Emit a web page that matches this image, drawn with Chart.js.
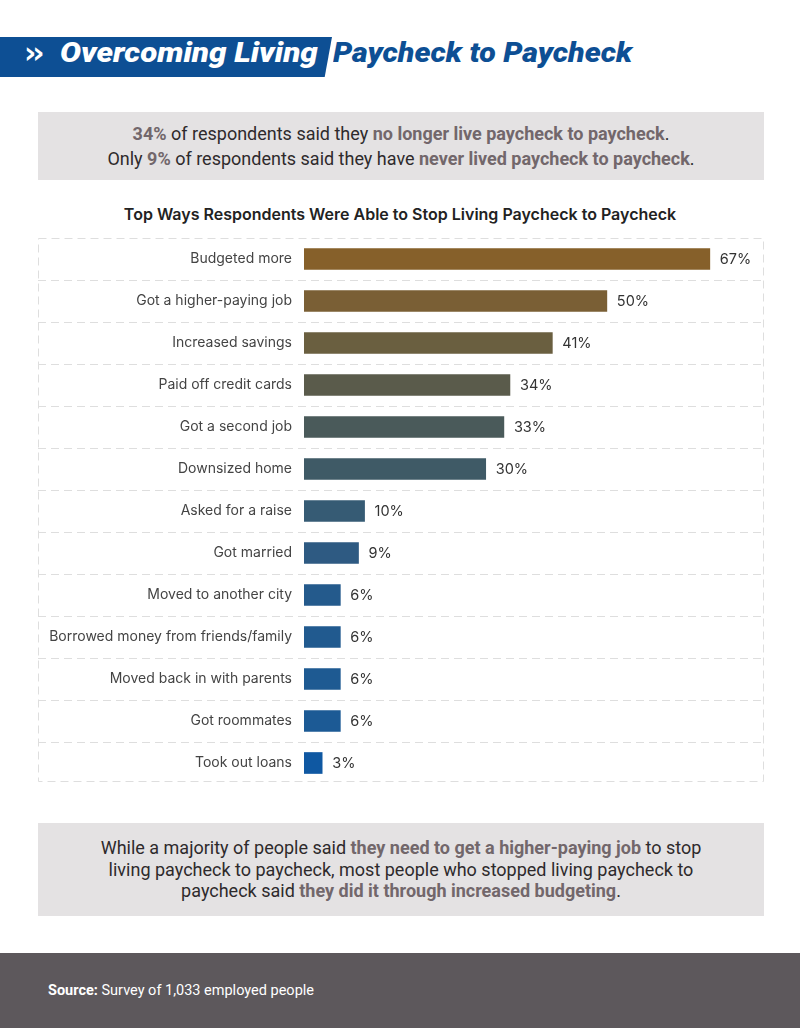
<!DOCTYPE html>
<html>
<head>
<meta charset="utf-8">
<script src="https://cdn.jsdelivr.net/npm/chart.js@4"></script>
<style>
  html,body{margin:0;padding:0;background:#fff;}
  body{width:800px;height:1028px;position:relative;overflow:hidden;font-family:Roboto, sans-serif;}
  .tbar{position:absolute;left:0;top:37px;width:332px;height:40px;background:#0d4f94;clip-path:polygon(0 0,100% 0,97.8% 100%,0 100%);}
  .chev{position:absolute;left:24px;top:35px;color:#fff;font:bold 30px "DejaVu Sans",sans-serif;letter-spacing:-4px;}
  .t1,.t2{position:absolute;top:36px;font:italic 900 28px Roboto, sans-serif;transform-origin:0 50%;white-space:nowrap;}
  .t1{left:60px;color:#fff;transform:scaleX(1.12);}
  .t2{left:333px;color:#0d4f94;transform:scaleX(1.085);}
  .box{position:absolute;left:38px;width:726px;background:#e4e2e3;text-align:center;color:#2e2a2c;font-family:Roboto,sans-serif;font-size:18px;}
  .box b{color:#72676b;font-weight:700;}
  .ctitle{position:absolute;left:0;width:800px;top:204px;text-align:center;font:600 16px Inter, sans-serif;color:#222;}
  #wrap{position:absolute;left:38px;top:238px;width:726px;height:546px;}
  .foot{position:absolute;left:0;top:953px;width:800px;height:75px;background:#5d585c;}
  .src{position:absolute;left:48px;top:982px;color:#fff;font:14.5px Roboto,sans-serif;}
</style>
</head>
<body>
<div class="tbar"></div>
<div class="chev">››</div>
<div class="t1">Overcoming Living</div>
<div class="t2">Paycheck to Paycheck</div>

<div class="box" style="top:112px;height:68px;line-height:25px;padding-top:9px;box-sizing:border-box;">
<b>34%</b> of respondents said they <b>no longer live paycheck to paycheck</b>.<br>
Only <b>9%</b> of respondents said they have <b>never lived paycheck to paycheck</b>.
</div>

<div class="ctitle">Top Ways Respondents Were Able to Stop Living Paycheck to Paycheck</div>

<div id="wrap"><canvas id="c" width="726" height="546"></canvas></div>

<div class="box" style="top:823px;height:93px;line-height:21.5px;padding-top:14px;box-sizing:border-box;">
While a majority of people said <b>they need to get a higher-paying job</b> to stop<br>
living paycheck to paycheck, most people who stopped living paycheck to<br>
paycheck said <b>they did it through increased budgeting</b>.
</div>

<div class="foot"></div>
<div class="src"><b>Source:</b> Survey of 1,033 employed people</div>

<script>
const categories = [
  "Budgeted more",
  "Got a higher-paying job",
  "Increased savings",
  "Paid off credit cards",
  "Got a second job",
  "Downsized home",
  "Asked for a raise",
  "Got married",
  "Moved to another city",
  "Borrowed money from friends/family",
  "Moved back in with parents",
  "Got roommates",
  "Took out loans"
];
const values = [67, 50, 41, 34, 33, 30, 10, 9, 6, 6, 6, 6, 3];
const barColors = [
  "#86602a", "#7a5f35", "#6a5f40", "#5a5b4b", "#4a5a5a", "#3f5a66",
  "#365b74", "#2e5a82", "#245a8c", "#215a8f", "#1e5a92", "#1c5a95", "#0f58a2"
];

const decor = {
  id: 'decor',
  beforeDatasetsDraw(chart) {
    const ctx = chart.ctx, y = chart.scales.y;
    const W = chart.width;
    ctx.save();
    ctx.strokeStyle = '#dedede';
    ctx.lineWidth = 1;
    ctx.setLineDash([8, 5]);
    for (let i = 0; i < categories.length - 1; i++) {
      const p = Math.round((y.getPixelForTick(i) + y.getPixelForTick(i + 1)) / 2) + 0.5;
      ctx.beginPath(); ctx.moveTo(0, p); ctx.lineTo(W, p); ctx.stroke();
    }
    ctx.strokeRect(0.5, 0.5, W - 1, chart.height - 3);
    ctx.restore();
  },
  afterDatasetsDraw(chart) {
    const ctx = chart.ctx;
    const meta = chart.getDatasetMeta(0);
    ctx.save();
    ctx.fillStyle = '#333';
    ctx.font = '14.5px Inter, sans-serif';
    ctx.textBaseline = 'middle';
    meta.data.forEach((bar, i) => {
      ctx.fillText(values[i] + '%', bar.x + 10, bar.y + 1);
    });
    ctx.restore();
  }
};

new Chart(document.getElementById('c'), {
  type: 'bar',
  data: {
    labels: categories,
    datasets: [{ data: values, backgroundColor: barColors, barThickness: 21 }]
  },
  options: {
    indexAxis: 'y',
    responsive: false,
    animation: false,
    layout: { padding: { left: 0, right: 36, top: 0, bottom: 0 } },
    plugins: { legend: { display: false }, tooltip: { enabled: false } },
    scales: {
      x: { display: false, min: 0, max: 70 },
      y: {
        grid: { display: false },
        border: { display: false },
        ticks: { color: '#444', font: { family: 'Inter, sans-serif', size: 14 }, padding: 4 },
        afterFit(s) { s.width = 266; s.paddingTop = 0; s.paddingBottom = 0; }
      }
    }
  },
  plugins: [decor]
});
</script>
</body>
</html>
